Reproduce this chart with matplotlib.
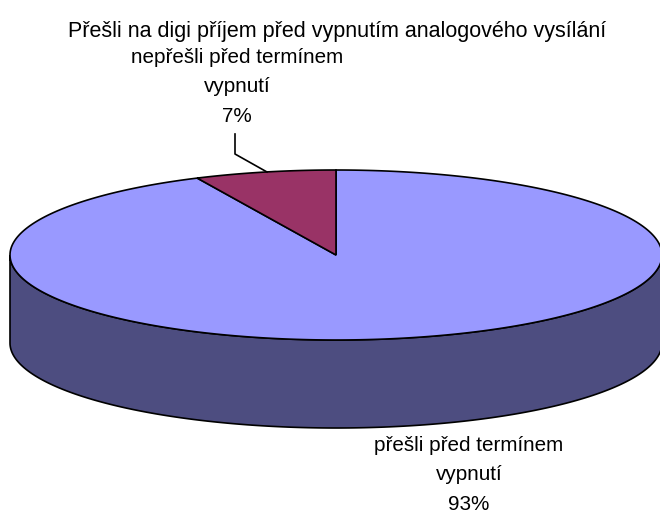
import numpy as np
import matplotlib.pyplot as plt
from matplotlib.patches import Polygon

plt.rcParams['font.family'] = ['Liberation Sans', 'DejaVu Sans']

title = "Přešli na digi příjem před vypnutím analogového vysílání"
categories = ["přešli před termínem\nvypnutí", "nepřešli před termínem\nvypnutí"]
values = [93, 7]
pct_labels = ["93%", "7%"]
top_colors = ["#9999FF", "#993366"]
side_colors = ["#4D4D80", "#4D1A33"]

W, H = 660, 514
fig = plt.figure(figsize=(W / 100, H / 100), dpi=100)
ax = fig.add_axes([0, 0, 1, 1])
ax.set_xlim(0, W)
ax.set_ylim(H, 0)
ax.axis('off')

cx, cy = 336, 255
a, b = 326, 85
depth = 88

def pt(theta_deg, dy=0):
    t = np.radians(theta_deg)
    return cx + a * np.sin(t), cy - b * np.cos(t) + dy

# side wall (front half), angles measured clockwise from top
th = np.linspace(90, 270, 200)
top_pts = [pt(t) for t in th]
bot_pts = [pt(t, depth) for t in th[::-1]]
ax.add_patch(Polygon(top_pts + bot_pts, closed=True, facecolor=side_colors[0],
                     edgecolor='black', linewidth=1.2, zorder=1))

# top slices
total = sum(values)
start = 0.0
for v, c in zip(values, top_colors):
    span = 360.0 * v / total
    th = np.linspace(start, start + span, 300)
    pts = [(cx, cy)] + [pt(t) for t in th]
    ax.add_patch(Polygon(pts, closed=True, facecolor=c, edgecolor='black',
                         linewidth=1.2, zorder=2))
    start += span

# title
ax.text(337, 32, title, ha='center', va='center', fontsize=15.5, color='black')

# labels
ax.text(469, 475, categories[0] + "\n" + pct_labels[0], ha='center', va='center',
        fontsize=14.9, linespacing=1.72)
ax.text(237, 87, categories[1] + "\n" + pct_labels[1], ha='center', va='center',
        fontsize=14.9, linespacing=1.72)

# leader line for small slice
ax.plot([235, 235, 267], [134, 154, 172], color='black', linewidth=1.2, zorder=3)

fig.savefig("out.png", dpi=100)
